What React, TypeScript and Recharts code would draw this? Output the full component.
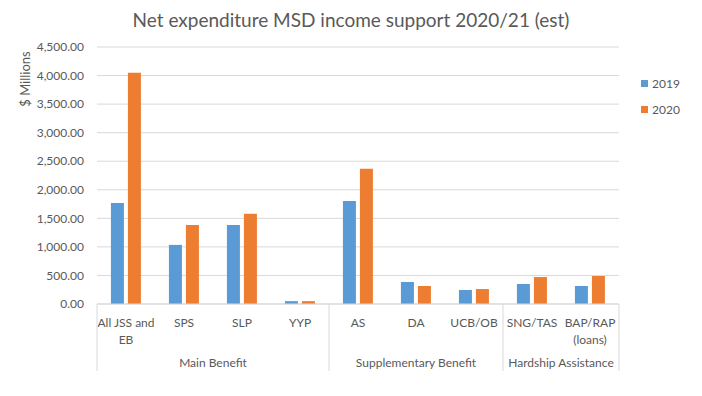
import React from 'react';
import { BarChart, Bar, XAxis, YAxis, CartesianGrid, Legend } from 'recharts';

const categories = ['All JSS and EB', 'SPS', 'SLP', 'YYP', 'AS', 'DA', 'UCB/OB', 'SNG/TAS', 'BAP/RAP (loans)'];
const categoryLines = [['All JSS and', 'EB'], ['SPS'], ['SLP'], ['YYP'], ['AS'], ['DA'], ['UCB/OB'], ['SNG/TAS'], ['BAP/RAP', '(loans)']];
const values2019 = [1770, 1035, 1385, 50, 1805, 385, 245, 350, 315];
const values2020 = [4050, 1385, 1580, 50, 2370, 315, 262, 472, 490];
const groups = [
  { label: 'Main Benefit', start: 0, size: 4 },
  { label: 'Supplementary Benefit', start: 4, size: 3 },
  { label: 'Hardship Assistance', start: 7, size: 2 },
];
const yTicks = [0, 500, 1000, 1500, 2000, 2500, 3000, 3500, 4000, 4500];
const seriesNames = ['2019', '2020'];
const colors = ['#5B9BD5', '#ED7D31'];

const data = categories.map((c, i) => ({ name: c, y2019: values2019[i], y2020: values2020[i] }));

const FONT = 'Lato, "Open Sans", sans-serif';
const TEXT = '#595959';
const GRID = '#D9D9D9';

const fmt = (v: number) =>
  v.toLocaleString('en-US', { minimumFractionDigits: 2, maximumFractionDigits: 2 });

const XTick = (props: any) => {
  const { x, y, payload, index } = props;
  const idx = payload?.index ?? index;
  const off = payload?.offset ?? 29;
  const lines = categoryLines[idx] || [payload.value];
  const boxH = 67;
  const els: any[] = [];
  lines.forEach((l: string, k: number) => {
    els.push(
      <text key={'t' + k} x={x} y={y + 23 + k * 17} textAnchor="middle" fill={TEXT} fontSize={12} fontFamily={FONT}>
        {l}
      </text>
    );
  });
  const g = groups.find((gr) => gr.start === idx);
  if (g) {
    const left = x - off;
    els.push(<line key="sepL" x1={left} x2={left} y1={y} y2={y + boxH} stroke={GRID} strokeWidth={1} />);
    els.push(
      <text key="g" x={left + g.size * off} y={y + 63} textAnchor="middle" fill={TEXT} fontSize={12} fontFamily={FONT}>
        {g.label}
      </text>
    );
  }
  if (idx === categories.length - 1) {
    els.push(<line key="sepR" x1={x + off} x2={x + off} y1={y} y2={y + boxH} stroke={GRID} strokeWidth={1} />);
  }
  return <g>{els}</g>;
};

const YLabel = (props: any) => {
  const vb = props.viewBox || { x: 0, y: 47 };
  const cx = vb.x + 25;
  const cy = vb.y + 32;
  return (
    <text x={cx} y={cy} transform={`rotate(-90 ${cx} ${cy})`} textAnchor="middle" dominantBaseline="central" fill={TEXT} fontSize={13} fontFamily={FONT}>
      $ Millions
    </text>
  );
};

const LegendContent = () => (
  <div style={{ fontFamily: FONT, fontSize: 12, color: TEXT }}>
    {seriesNames.map((n, i) => (
      <div key={n} style={{ display: 'flex', alignItems: 'center', height: 26 }}>
        <span style={{ display: 'inline-block', width: 7, height: 7, background: colors[i], marginRight: 4 }} />
        <span>{n}</span>
      </div>
    ))}
  </div>
);

export default function App() {
  return (
    <div style={{ position: 'absolute', left: 0, top: 0, width: 702, height: 396, background: '#fff' }}>
      <div
        style={{
          position: 'absolute',
          left: 0,
          top: 7,
          width: 702,
          textAlign: 'center',
          fontFamily: FONT,
          fontSize: 19,
          color: TEXT,
          lineHeight: '26px',
        }}
      >
        Net expenditure MSD income support 2020/21 (est)
      </div>
      <BarChart
        width={702}
        height={396}
        data={data}
        margin={{ top: 47, right: 83, left: 0, bottom: 0 }}
        barCategoryGap="24%"
        barGap={4}
      >
        <CartesianGrid vertical={false} stroke={GRID} strokeWidth={1} />
        <XAxis
          dataKey="name"
          interval={0}
          height={92}
          tickLine={false}
          tickSize={0}
          tickMargin={0}
          axisLine={{ stroke: GRID }}
          tick={<XTick />}
        />
        <YAxis
          width={97}
          domain={[0, 4500]}
          ticks={yTicks}
          interval={0}
          tickFormatter={fmt}
          axisLine={false}
          tickLine={false}
          tickSize={0}
          tickMargin={13}
          tick={{ fill: TEXT, fontSize: 12, fontFamily: FONT }}
          label={<YLabel />}
        />
        <Legend
          layout="vertical"
          align="center"
          verticalAlign="middle"
          content={<LegendContent />}
          wrapperStyle={{ left: 641, top: 70, width: 60 }}
        />
        <Bar dataKey="y2019" name={seriesNames[0]} fill={colors[0]} isAnimationActive={false} />
        <Bar dataKey="y2020" name={seriesNames[1]} fill={colors[1]} isAnimationActive={false} />
      </BarChart>
    </div>
  );
}
